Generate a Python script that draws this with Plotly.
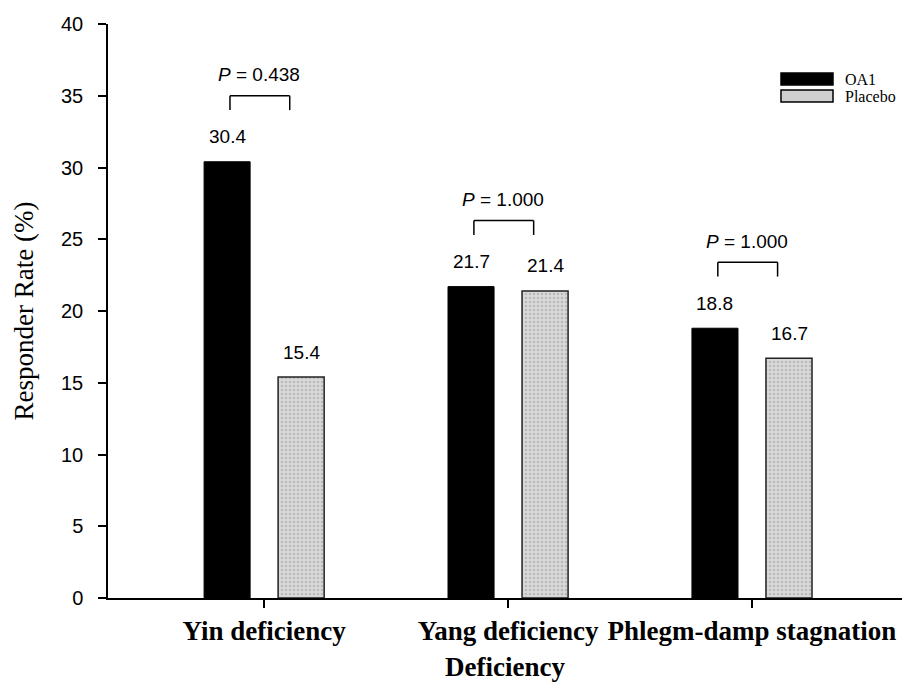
import plotly.graph_objects as go

categories = ["Yin deficiency", "Yang deficiency", "Phlegm-damp stagnation"]
series_names = ["OA1", "Placebo"]
oa1_values = [30.4, 21.7, 18.8]
placebo_values = [15.4, 21.4, 16.7]
p_labels = ["0.438", "1.000", "1.000"]
y_ticks = [0, 5, 10, 15, 20, 25, 30, 35, 40]

BARGAP = 0.393
BARGROUPGAP = 0.378
slot = (1 - BARGAP) / 2
offsets = [-slot / 2, slot / 2]

SANS = "Liberation Sans"
SERIF = "Liberation Serif"

fig = go.Figure()
fig.add_trace(go.Bar(
    x=categories, y=oa1_values, name=series_names[0],
    marker=dict(color="black", line=dict(color="black", width=1)),
    showlegend=False,
))
fig.add_trace(go.Bar(
    x=categories, y=placebo_values, name=series_names[1],
    marker=dict(color="#d9d9d9", line=dict(color="#222222", width=1.5),
                pattern=dict(shape=".", fgcolor="#9a9a9a", size=4, solidity=0.35,
                             fillmode="overlay")),
    showlegend=False,
))

annotations = []
shapes = []
for i, (a, b) in enumerate(zip(oa1_values, placebo_values)):
    for off, v in zip(offsets, (a, b)):
        annotations.append(dict(x=i + off, y=v, xref="x", yref="y", text=f"{v:.1f}",
                                showarrow=False, yanchor="middle", yshift=25,
                                font=dict(family=SANS, size=19, color="black")))
    top = max(a, b) + 4.6
    bot = max(a, b) + 3.6
    x0, x1 = i - 0.14, i + 0.105
    line = dict(color="black", width=1.5)
    shapes.append(dict(type="line", xref="x", yref="y", x0=x0, x1=x1, y0=top, y1=top, line=line))
    shapes.append(dict(type="line", xref="x", yref="y", x0=x0, x1=x0, y0=top, y1=bot, line=line))
    shapes.append(dict(type="line", xref="x", yref="y", x0=x1, x1=x1, y0=top, y1=bot, line=line))
    annotations.append(dict(x=(x0 + x1) / 2, y=top, xref="x", yref="y",
                            text=f"<i>P</i> = {p_labels[i]}", showarrow=False,
                            yanchor="middle", yshift=21, xshift=-1,
                            font=dict(family=SANS, size=19, color="black")))

# custom legend (wide swatches like the reference)
legend_rows = [(0.8937, 0.9146), (0.8641, 0.8850)]
fills = ["black", "#cfcfcf"]
for name, (y0, y1), fc in zip(series_names, legend_rows, fills):
    shapes.append(dict(type="rect", xref="paper", yref="paper", x0=0.8476, x1=0.9131,
                       y0=y0, y1=y1, fillcolor=fc, line=dict(color="black", width=1.5)))
    annotations.append(dict(x=0.9257, y=(y0 + y1) / 2, xref="paper", yref="paper",
                            text=name, showarrow=False, xanchor="left", yanchor="middle",
                            font=dict(family=SERIF, size=16, color="black")))

fig.update_layout(
    width=915, height=694,
    margin=dict(l=108, r=13, t=24, b=96, autoexpand=False),
    paper_bgcolor="white", plot_bgcolor="white",
    barmode="group", bargap=BARGAP, bargroupgap=BARGROUPGAP,
    shapes=shapes, annotations=annotations,
    xaxis=dict(
        range=[-0.64, 2.615], showline=True, linecolor="black", linewidth=1.5,
        ticks="outside", ticklen=8, tickcolor="black", tickwidth=1.5,
        tickfont=dict(family=SERIF, size=27, color="black", weight="bold"),
        title=dict(text="<b>Deficiency</b>", font=dict(family=SERIF, size=27, color="black"),
                   standoff=12),
        showgrid=False, zeroline=False, automargin=False,
    ),
    yaxis=dict(
        range=[0, 40], tickvals=y_ticks, showline=True, linecolor="black", linewidth=1.5,
        ticks="outside", ticklen=8, tickcolor="black", tickwidth=1.5,
        tickfont=dict(family=SANS, size=20, color="black"),
        ticklabelstandoff=11,
        title=dict(text="Responder Rate (%)", font=dict(family=SERIF, size=27, color="black"),
                   standoff=20),
        showgrid=False, zeroline=False, automargin=False,
    ),
)

fig.write_html("out.html", config={"displayModeBar": False},
               post_script="document.body.style.margin='0';document.body.style.padding='0';document.body.style.overflow='hidden';")
